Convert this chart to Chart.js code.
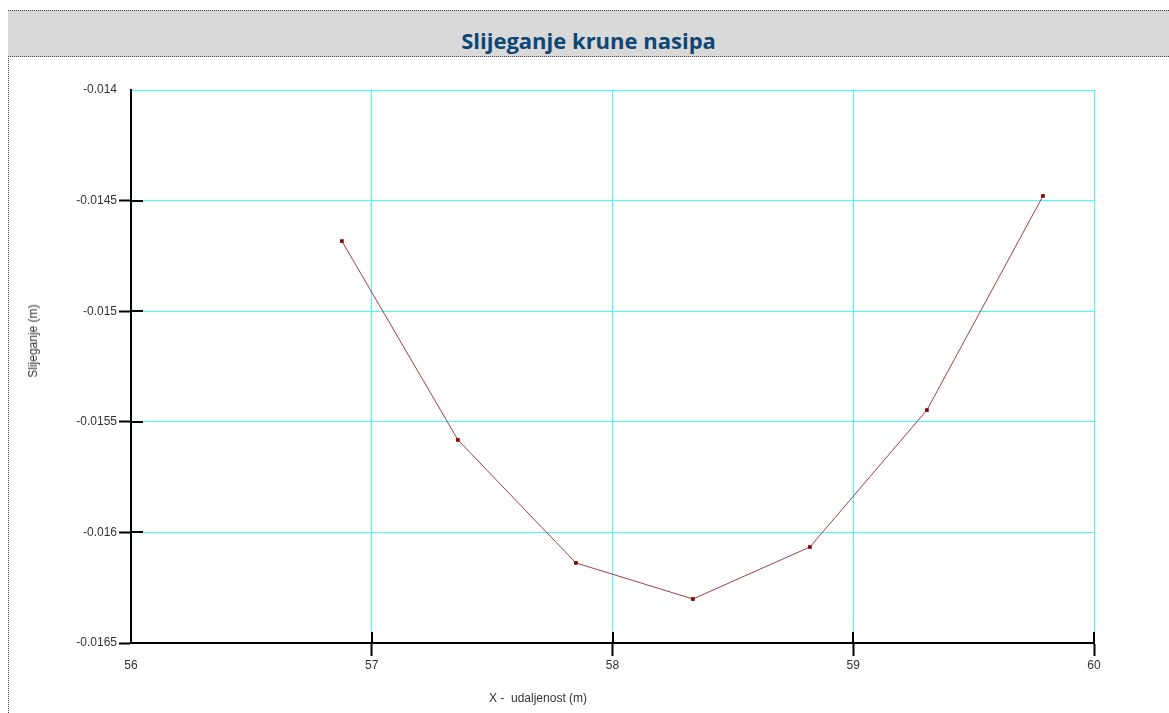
<!DOCTYPE html>
<html>
<head>
<meta charset="utf-8">
<script src="https://cdn.jsdelivr.net/npm/chart.js@4/dist/chart.umd.min.js"></script>
<style>
  html, body { margin: 0; padding: 0; background: #fff; }
  body { width: 1169px; height: 713px; position: relative; overflow: hidden; }
  #frame { position: absolute; left: 8px; top: 10px; width: 1161px; height: 703px;
           border-left: 1px dotted #444; box-sizing: border-box; }
  #band { position: absolute; left: 8px; top: 10px; width: 1161px; height: 47px;
          background: #d9d9d9; border-top: 1px dotted #444; border-bottom: 1px dotted #444;
          box-sizing: border-box; }
  #title { position: absolute; left: 8px; width: 1161px; top: 25px; text-align: center;
           font-family: "Open Sans", sans-serif; font-weight: 700; font-size: 22px;
           line-height: 30px; color: #0d4776; }
  #chartWrap { position: absolute; left: 0; top: 0; width: 1169px; height: 713px; }
  .axisTitle { position: absolute; font-family: "Liberation Sans", Arial, sans-serif;
               font-size: 12px; color: #333; white-space: pre; }
  #xTitle { left: 489px; top: 691px; }
  #yTitle { left: 33px; top: 341px; transform: translate(-50%, -50%) rotate(-90deg); }
</style>
</head>
<body>
<div id="frame"></div>
<div id="band"></div>
<div id="title">Slijeganje krune nasipa</div>
<div id="chartWrap"><canvas id="c" width="1169" height="713"></canvas></div>
<div class="axisTitle" id="xTitle">X -  udaljenost (m)</div>
<div class="axisTitle" id="yTitle">Slijeganje (m)</div>
<script>
const xValues = [56.876, 57.358, 57.848, 58.334, 58.820, 59.306, 59.788];
const settlement = [-0.014683, -0.015582, -0.016138, -0.016301, -0.016066, -0.015447, -0.014479];
const xTickValues = [56, 57, 58, 59, 60];
const yTickValues = [-0.014, -0.0145, -0.015, -0.0155, -0.016, -0.0165];
const xTickLabels = ['56', '57', '58', '59', '60'];
const yTickLabels = ['-0.014', '-0.0145', '-0.015', '-0.0155', '-0.016', '-0.0165'];

const points = xValues.map((x, i) => ({ x: x, y: settlement[i] }));

const innerTicks = {
  id: 'innerTicks',
  afterDraw(chart) {
    const ctx = chart.ctx;
    const xs = chart.scales.x, ys = chart.scales.y;
    const a = chart.chartArea;
    ctx.save();
    ctx.strokeStyle = '#000';
    ctx.lineWidth = 2;
    xs.ticks.forEach(t => {
      const px = Math.round(xs.getPixelForValue(t.value));
      if (px <= a.left + 1) return;
      ctx.beginPath(); ctx.moveTo(px, a.bottom); ctx.lineTo(px, a.bottom - 11); ctx.stroke();
    });
    ys.ticks.forEach(t => {
      const py = Math.round(ys.getPixelForValue(t.value));
      if (py >= a.bottom - 1 || py <= a.top + 1) return;
      ctx.beginPath(); ctx.moveTo(a.left, py); ctx.lineTo(a.left + 12, py); ctx.stroke();
    });
    ctx.restore();
  }
};

new Chart(document.getElementById('c'), {
  type: 'line',
  data: {
    datasets: [{
      data: points,
      borderColor: 'rgba(128,0,0,0.75)',
      borderWidth: 1,
      backgroundColor: '#8b0000',
      pointBackgroundColor: '#8b0000',
      pointBorderColor: '#8b0000',
      pointBorderWidth: 0,
      pointStyle: 'rect',
      pointRadius: 2.6,
      pointHoverRadius: 2.6,
      tension: 0,
      fill: false
    }]
  },
  options: {
    responsive: false,
    animation: false,
    events: [],
    layout: { padding: { left: 0, right: 75, top: 90, bottom: 0 } },
    plugins: { legend: { display: false }, tooltip: { enabled: false }, title: { display: false } },
    scales: {
      x: {
        type: 'linear',
        min: 56, max: 60,
        afterBuildTicks(scale) { scale.ticks = xTickValues.map(v => ({ value: v })); },
        afterFit(scale) { scale.height = 70; },
        ticks: {
          callback: (v) => xTickLabels[xTickValues.indexOf(v)],
          font: { family: 'Liberation Sans', size: 12 },
          color: '#333',
          padding: 2,
          maxRotation: 0,
          autoSkip: false
        },
        grid: {
          color: '#40ffff',
          lineWidth: 1,
          tickLength: 13,
          tickWidth: 2,
          tickColor: (ctx) => ctx.index === 0 ? 'rgba(0,0,0,0)' : '#000'
        },
        border: { display: true, color: '#000', width: 2 }
      },
      y: {
        type: 'linear',
        min: -0.0165, max: -0.014,
        afterBuildTicks(scale) { scale.ticks = yTickValues.map(v => ({ value: v })); },
        afterFit(scale) { scale.width = 131; },
        ticks: {
          callback: (v) => { const i = yTickValues.findIndex(t => Math.abs(t - v) < 1e-9); return yTickLabels[i]; },
          font: { family: 'Liberation Sans', size: 12 },
          color: '#333',
          padding: 2,
          autoSkip: false
        },
        grid: {
          color: '#40ffff',
          lineWidth: 1,
          tickLength: 12,
          tickWidth: 2,
          tickColor: (ctx) => (ctx.tick && Math.abs(ctx.tick.value - yTickValues[0]) < 1e-9) ? 'rgba(0,0,0,0)' : '#000'
        },
        border: { display: true, color: '#000', width: 2 }
      }
    }
  },
  plugins: [innerTicks]
});
</script>
</body>
</html>
